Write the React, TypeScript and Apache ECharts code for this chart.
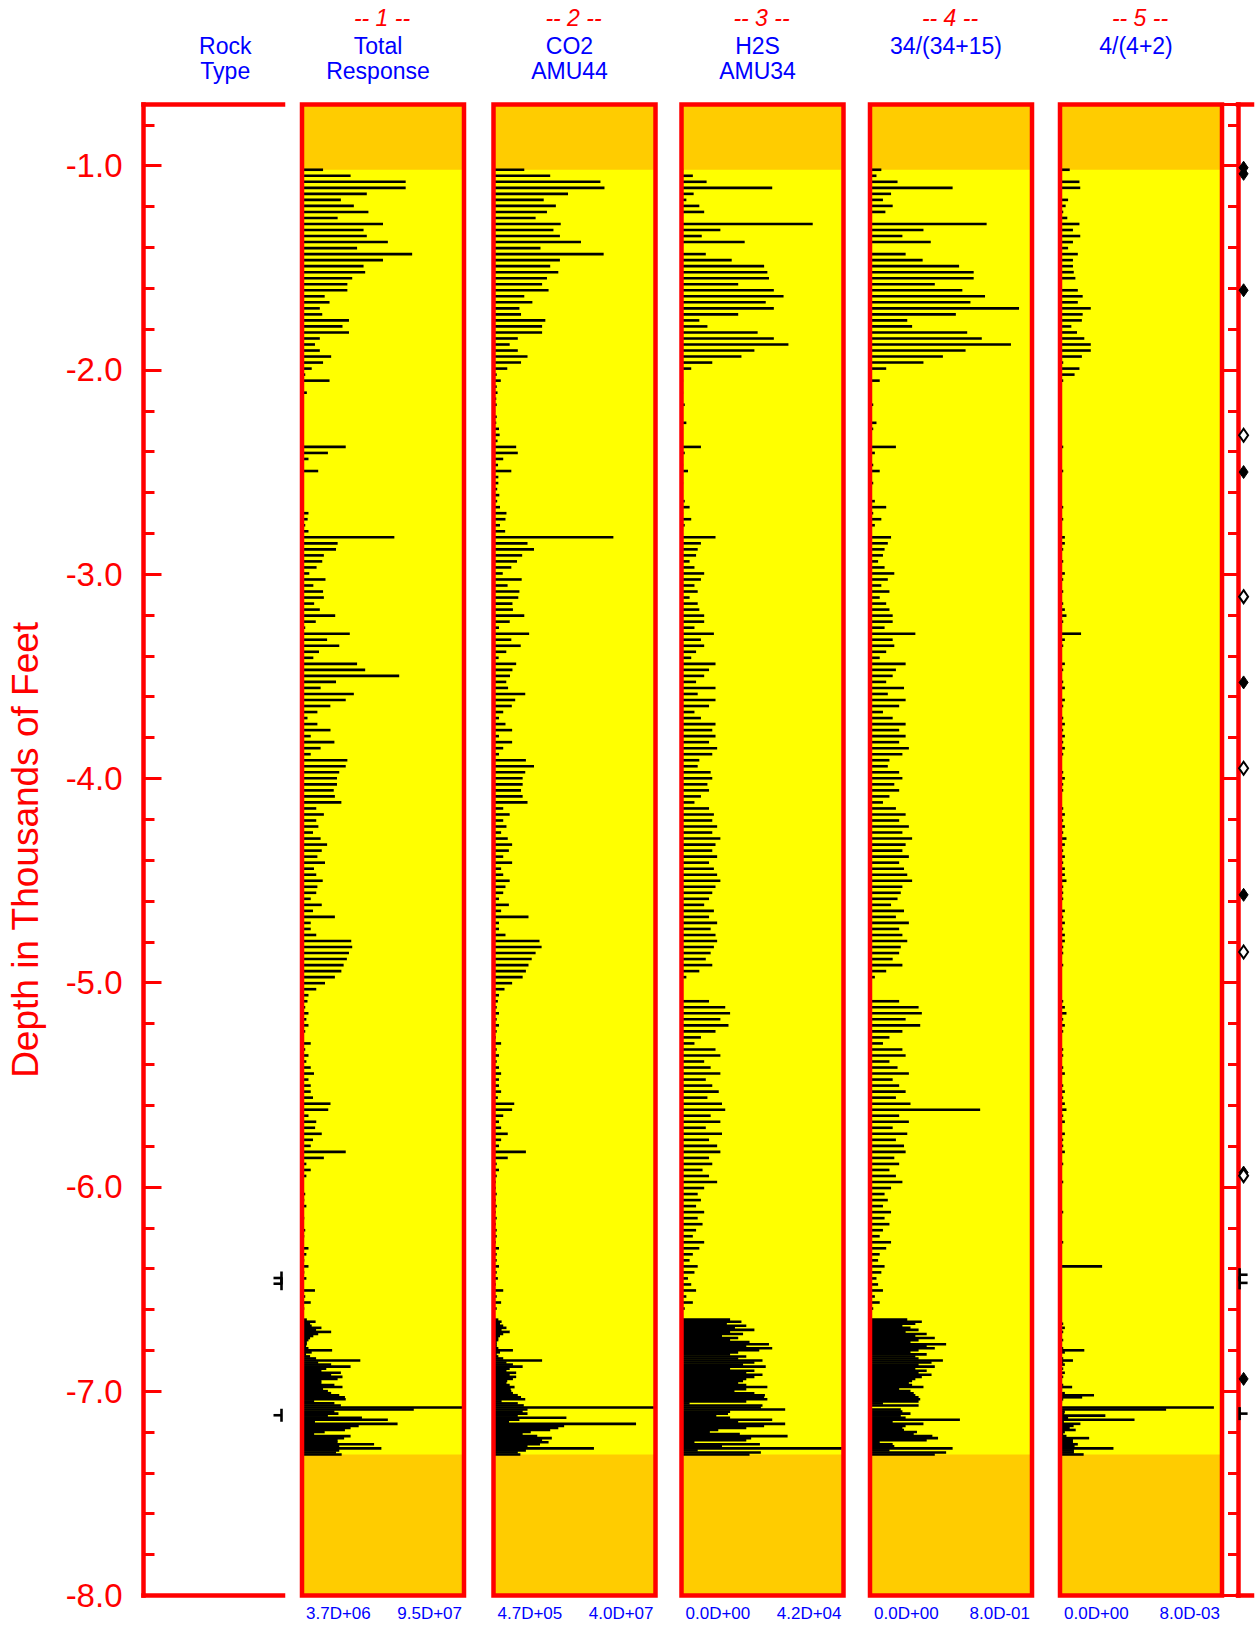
import React, { useEffect, useRef } from "react";
import * as echarts from "echarts";

// ---------- texts ----------
const TRACK_NUMBERS = ["-- 1 --", "-- 2 --", "-- 3 --", "-- 4 --", "-- 5 --"];
const TRACK_TITLES = [["Total", "Response"], ["CO2", "AMU44"], ["H2S", "AMU34"], ["34/(34+15)"], ["4/(4+2)"]];
const ROCK_TITLE = ["Rock", "Type"];
const SCALE_LABELS = [
  ["3.7D+06", "9.5D+07"],
  ["4.7D+05", "4.0D+07"],
  ["0.0D+00", "4.2D+04"],
  ["0.0D+00", "8.0D-01"],
  ["0.0D+00", "8.0D-03"],
];
const DEPTH_AXIS_TITLE = "Depth in Thousands of Feet";

// ---------- depth axis (thousands of feet, negative down) ----------
const DEPTH_MIN = -8.0;
const DEPTH_MAX = -0.7;
const MAJOR_STEP = 1;
const MINOR_STEP = 0.2;

// ---------- sampling (feet) ----------
const SPARSE_FIRST_FT = 1020;
const SPARSE_STEP_FT = 29.5;
const DENSE_FIRST_FT = 6650;
const DENSE_STEP_FT = 10;

// ---------- track values, percent of each track's scale ----------
const T1_SPARSE = [
  13, 30, 64, 64, 40, 24, 32, 41, 22, 50, 38, 40, 53, 34, 68, 50, 38, 39, 31, 28,
  28, 14, 17, 11, 12.5, 29, 25, 29, 11, 8, 11, 18, 13, 6, 2, 17,
  1, 3, 0.5, 0.5, 0, 0, 0, 0.5, 1, 0, 27, 16, 4, 0.5, 10, 0.5, 0.5, 0, 0.5, 0,
  0.5, 4, 3.5, 2, 4, 57, 22, 21, 13.5, 12.5, 9, 4.5, 14.5, 7, 13, 13.5, 7.5, 11, 20.5, 8.5,
  2, 29.5, 15.5, 23, 10.5, 7, 34, 39, 60, 21, 11.5, 32, 27, 17.5,
  9.5, 3.4, 9.5, 17.6, 5.4, 20, 11.5, 5.4, 28, 27,
  23, 21.6, 21.6, 19.6, 20.3, 24.3, 8.8, 13.5, 8.8, 10.1,
  6.8, 11.5, 15.5, 12.2, 9.5, 14.2, 7.4, 8.8, 12.8, 9.5,
  8.8, 5.4, 12.2, 6.8, 20.3, 5.4, 5.4, 8.8, 30.4, 31,
  29, 27.7, 25.7, 24.3, 20.3, 14.2, 8.8, 4, 3.4, 2,
  4, 2.7, 4, 2, 0.7, 5.4, 2, 4, 2.7, 5.4,
  7.4, 4, 5.4, 5.4, 6.8, 17.6, 16.2, 4, 8.8, 8.1,
  12.2, 6.8, 5.4, 27, 13.5, 2.7, 5.4, 2.7, 0.7, 0.7,
  2, 1.4, 2.7, 0.7, 1.4, 0.7, 2, 1.4, 0.7, 4,
  2.7, 1.4, 4, 1.4, 2.7, 0.7, 8, 2, 5.4, 1.4,
];
const T2_SPARSE = [
  19, 35, 66, 68.5, 46, 31, 38.5, 33, 26, 41.5, 37, 41, 54, 29, 68, 41, 35, 40, 33, 30,
  34, 19, 24, 16, 17, 32, 30, 30, 15, 10, 15, 21, 17, 8.5, 2, 4.5,
  2, 2.5, 1.7, 2, 1, 2, 1.7, 3.4, 3.8, 2.5, 14, 15, 6, 2.8, 11, 3, 3, 2.3, 3.6, 2.3,
  4, 8, 7.4, 4, 7.2, 74, 21, 25, 17.7, 14.5, 11, 5.7, 17.4, 8.7, 16, 15.3, 11.7, 12, 19, 10,
  3.4, 22, 11, 16.8, 7.9, 3.2, 14, 11.7, 10.2, 7.9, 9, 19.6, 13.4, 11.3,
  6, 3.4, 7.4, 11.5, 3.4, 11.5, 6, 3.4, 20, 25,
  19.6, 18, 18, 17, 18, 21, 6, 10, 6, 8,
  4.7, 8.8, 11.5, 9.5, 6, 11.5, 4.7, 6, 10, 7.4,
  6, 3.4, 9.5, 4.7, 21.6, 3.4, 3.4, 7.4, 28.4, 29.7,
  26, 23.6, 21.6, 20, 18, 11.5, 6.8, 3.4, 2.7, 2,
  3.4, 2, 3.4, 2, 1.4, 4.7, 2, 3.4, 2, 3.4,
  4.7, 3.4, 3.4, 4.7, 2.7, 12.8, 11.5, 6, 3.4, 4.7,
  8.8, 4.7, 3.4, 20, 8.8, 2, 3.4, 2, 1.4, 1.4,
  2, 1.4, 2, 1.4, 2, 1.4, 2, 2, 1.4, 3.4,
  2, 2, 3.4, 2, 2.7, 1.4, 6, 2, 4.7, 2,
];
const T3_SPARSE = [
  1, 7, 15.5, 56, 7.5, 3, 11, 14, 0, 81, 24, 12.5, 39, 0, 15, 31, 51, 53, 54, 35,
  57, 63, 52, 57, 35, 11, 16, 47, 57, 66, 45, 37, 19, 6, 0, 1,
  0, 1, 0, 2, 0, 0, 3, 1, 0, 0,
  12, 2, 0, 1, 4, 0, 1, 0, 0, 2,
  5, 1, 6, 2, 0, 21, 12, 10, 9, 5,
  8, 14, 12, 8, 10, 5, 10, 11, 14, 14,
  8, 20, 12, 14, 9, 6, 21, 17, 14, 9,
  21, 10, 21, 17, 8, 12, 21, 19, 21, 17,
  22, 19, 11, 10, 18, 19, 16, 17, 12, 8,
  17, 20, 19, 22, 19, 24, 21, 19, 22, 17,
  20, 22, 24, 21, 19, 17, 14, 20, 17, 22,
  18, 21, 22, 20, 18, 15, 19, 11, 3, 0,
  0, 0, 17, 27, 30, 24, 29, 21, 12, 8,
  21, 24, 14, 18, 24, 15, 19, 23, 16, 25,
  27, 18, 24, 15, 25, 17, 22, 24, 17, 19,
  13, 17, 22, 14, 10, 12, 9, 14, 10, 13,
  9, 7, 14, 11, 7, 5, 10, 8, 4, 6,
  9, 3, 7, 2,
];
const T4_SPARSE = [
  7, 4, 17, 51, 13, 8, 14, 9.5, 0, 72, 33, 20, 37.5, 0, 22, 32.5, 55, 64, 64, 40,
  57, 71, 62, 92, 53, 23, 26, 60, 69, 87, 59, 45, 33, 10, 0, 6,
  0, 1, 0, 2, 0, 0, 4, 2, 0, 0,
  16, 3, 0, 2, 6, 0, 2, 0, 0, 3,
  10, 2, 7, 3, 0, 13, 11, 9, 8, 5,
  9, 15, 11, 7, 12, 6, 10, 12, 14, 14,
  9, 28, 14, 15, 10, 6, 22, 16, 14, 10,
  21, 11, 22, 18, 8, 14, 22, 18, 22, 18,
  24, 20, 12, 11, 18, 20, 15, 18, 12, 8,
  16, 22, 18, 24, 20, 26, 22, 20, 24, 18,
  21, 23, 26, 20, 19, 17, 13, 21, 16, 24,
  18, 20, 23, 19, 18, 14, 20, 10, 3, 0,
  0, 0, 18, 30, 32, 22, 31, 20, 12, 8,
  20, 22, 12, 17, 24, 14, 18, 22, 16, 25,
  68, 18, 24, 14, 23, 16, 21, 22, 15, 18,
  12, 16, 20, 13, 9, 11, 8, 13, 9, 12,
  8, 6, 13, 10, 6, 5, 9, 7, 4, 5,
  8, 3, 6, 2,
];
const T5_SPARSE = [
  6, 0, 12, 12.5, 0, 5, 3.5, 2, 4.5, 12, 8, 12.5, 8, 5, 11, 8, 8, 8.5, 9.5, 0,
  11, 14, 11, 19, 14, 13.5, 7, 10.5, 15, 19, 19, 13.5, 2, 12, 9, 2,
  0, 1, 0, 0, 0, 0, 1, 0, 0, 0,
  2, 0, 0, 1, 2, 0, 0, 0, 0, 1,
  2, 0, 2, 1, 0, 3, 3, 2, 1, 2,
  1, 3, 2, 1, 2, 1, 2, 3, 4, 2,
  1, 13, 3, 2, 1, 0, 3, 2, 1, 2,
  3, 1, 3, 2, 1, 2, 3, 2, 3, 2,
  3, 2, 1, 1, 2, 3, 2, 2, 1, 0,
  2, 3, 2, 3, 2, 4, 3, 2, 3, 2,
  3, 3, 4, 2, 2, 2, 1, 3, 2, 3,
  2, 3, 3, 2, 2, 1, 2, 1, 0, 0,
  0, 0, 2, 3, 4, 2, 3, 2, 1, 1,
  2, 2, 1, 2, 3, 1, 2, 3, 2, 3,
  4, 2, 3, 1, 3, 2, 2, 3, 1, 2,
  1, 1, 2, 0, 1, 0, 1, 2, 0, 1,
  0, 1, 2, 0, 1, 0, 26, 1, 0, 0,
  1, 0, 1, 0,
];

const T1_DENSE = [
  3, 8.4, 5, 6, 12, 8.7, 18, 10, 7, 5, 4, 3, 3, 2.5, 4, 18.6, 6, 2.5, 5, 8.7,
  36, 10, 18, 30, 15, 12, 24, 18, 25, 22,
  12, 12, 20, 25, 13, 16, 18, 23, 26.5, 27, 7.5, 20, 24, 100, 69, 20, 22.5, 16, 37, 53,
  8, 59, 35, 30, 26.5, 14, 7.5, 30, 26, 22, 22, 44.5, 23, 49, 23, 21, 24.5,
];
const T2_DENSE = [
  3, 5, 4, 6, 8, 5, 10, 6, 4, 3, 3, 2, 2, 2, 3, 12, 4, 2, 3, 6,
  30, 8, 12, 18, 10, 8, 14, 10, 14, 12,
  8.5, 8, 10, 13, 10.6, 11, 12, 15, 17, 19.6, 5, 15, 18.7, 99, 21, 18, 21, 15, 45, 16,
  9.6, 88, 43.6, 40, 35, 23, 18, 27, 36, 30, 34, 28.7, 21, 62, 20, 15, 16.6,
];
const T3_DENSE = [
  30, 37, 28, 40, 33, 45, 30, 38, 25, 35, 30, 42, 54, 40, 56, 48, 35, 30, 40, 35,
  50, 45, 38, 52, 30, 45, 40, 50, 45, 40,
  38, 35, 40, 53, 40, 32.7, 45, 51.5, 51, 53, 40, 5, 50, 49, 64, 30, 28.7, 21.5, 30, 56,
  35, 64, 51, 40, 22.7, 17.5, 36, 65.5, 43, 40, 8, 48.4, 25, 99, 10, 49, 42,
];
const T4_DENSE = [
  23, 32, 28, 20, 25, 30, 22, 35, 28, 40, 30, 25, 47, 35, 40, 30, 25, 35, 28, 30,
  45, 38, 30, 40, 28, 35, 30, 38, 32, 28,
  26, 24, 26, 33, 18, 25, 27, 28, 30, 31, 30, 8, 30, 1, 19, 20, 25, 19, 22, 55.5,
  14, 33, 22, 20, 21, 29, 27, 38.5, 42, 35, 6, 14, 15, 51, 12, 47, 40,
];
const T5_DENSE = [
  1, 1, 2, 1, 3, 1, 2, 1, 1, 1, 2, 1, 1, 1, 2, 15, 3, 1, 1, 2,
  8, 2, 3, 1, 2, 1, 3, 1, 2, 1,
  1, 1, 2, 7.5, 1.3, 1, 3, 21, 13.7, 2, 1.3, 1, 0.5, 95, 65.5, 3, 2.7, 28, 5, 46,
  2.4, 12.6, 8.4, 6, 9.7, 3, 2, 4, 18, 8, 8, 11, 9, 33, 8.6, 8.6, 14.6,
];

const TRACK_SPARSE = [T1_SPARSE, T2_SPARSE, T3_SPARSE, T4_SPARSE, T5_SPARSE];
const TRACK_DENSE = [T1_DENSE, T2_DENSE, T3_DENSE, T4_DENSE, T5_DENSE];

// ---------- marker picks (feet) ----------
const ROCK_MARK_DEPTHS = [6446, 6474, 7118];
const RIGHT_MARK_DEPTHS = [1010, 1040, 1610, 2320, 2500, 3110, 3530, 3950, 4570, 4850, 5930, 5945, 6430, 6470, 6940, 7110];
const RIGHT_MARK_KINDS = ["filled", "filled", "filled", "open", "filled", "open", "filled", "open", "filled", "open", "filled", "open", "tick", "tick", "filled", "tick"];

// ---------- layout / style ----------
const FONT = "'Liberation Sans', Arial, Helvetica, sans-serif";
const RED = "#FF0000";
const BLUE = "#0000FF";
const YELLOW = "#FFFF00";
const ORANGE = "#FFCC00";
const FRAME_W = 4.5;
const BAR_H = 2.6;
const PLOT_TOP = 104.4;
const PLOT_HEIGHT = 1491;
const ROCK_LEFT = 143.5;
const ROCK_WIDTH = 139.5;
const PANEL_LEFTS = [302, 493.5, 681.5, 870, 1060];
const PANEL_WIDTH = 162;
const RIGHT_LEFT = 1238;
const RIGHT_WIDTH = 14;

const ft2axis = (ft: number) => -ft / 1000;

function trackData(k: number) {
  const rows: number[][] = [];
  TRACK_SPARSE[k].forEach((v, i) => rows.push([v, ft2axis(SPARSE_FIRST_FT + i * SPARSE_STEP_FT)]));
  TRACK_DENSE[k].forEach((v, i) => rows.push([v, ft2axis(DENSE_FIRST_FT + i * DENSE_STEP_FT)]));
  return rows;
}

function buildOption(): any {
  const firstFt = SPARSE_FIRST_FT;
  const lastFt = DENSE_FIRST_FT + (T1_DENSE.length - 1) * DENSE_STEP_FT;

  const grids: any[] = [
    { left: ROCK_LEFT, top: PLOT_TOP, width: ROCK_WIDTH, height: PLOT_HEIGHT, outerBoundsMode: "none" },
    ...PANEL_LEFTS.map((l) => ({ left: l, top: PLOT_TOP, width: PANEL_WIDTH, height: PLOT_HEIGHT, outerBoundsMode: "none" })),
    { left: RIGHT_LEFT, top: PLOT_TOP, width: RIGHT_WIDTH, height: PLOT_HEIGHT, outerBoundsMode: "none" },
  ];

  const frameLine = { show: true, lineStyle: { color: RED, width: FRAME_W, cap: "square" } };
  const lineOnlyX = (gridIndex: number, position: string) => ({
    gridIndex, type: "value", min: 0, max: 1, position,
    axisLine: frameLine, axisTick: { show: false }, axisLabel: { show: false }, splitLine: { show: false },
  });

  const xAxes: any[] = [
    lineOnlyX(0, "bottom"),
    lineOnlyX(0, "top"),
    ...SCALE_LABELS.map((lab, k) => ({
      gridIndex: k + 1, type: "value", min: 0, max: 100, interval: 100, position: "bottom",
      axisLine: { show: false }, axisTick: { show: false }, splitLine: { show: false },
      axisLabel: {
        show: true, color: BLUE, fontSize: 17, fontFamily: FONT, margin: 10,
        showMinLabel: true, showMaxLabel: true, hideOverlap: false,
        alignMinLabel: "left", alignMaxLabel: "right", padding: [0, 2, 0, 4],
        formatter: (v: number) => (v === 0 ? lab[0] : v === 100 ? lab[1] : ""),
      },
    })),
    lineOnlyX(6, "bottom"),
    lineOnlyX(6, "top"),
  ];

  const depthAxisBase = { type: "value", min: DEPTH_MIN, max: DEPTH_MAX, splitLine: { show: false } };
  const isMajor = (v: number) => Math.abs(v - Math.round(v)) < 1e-6;
  const yAxes: any[] = [
    {
      ...depthAxisBase, gridIndex: 0, position: "left", interval: MINOR_STEP,
      axisLine: { show: true, lineStyle: { color: RED, width: FRAME_W, cap: "square" } },
      axisTick: { show: true, inside: true, length: 11, lineStyle: { color: RED, width: 3 } },
      axisLabel: { show: false },
    },
    {
      ...depthAxisBase, gridIndex: 0, position: "left", interval: MAJOR_STEP,
      axisLine: { show: false },
      axisTick: { show: true, inside: true, length: 18, lineStyle: { color: RED, width: 3 } },
      axisLabel: {
        show: true, color: RED, fontSize: 33, fontFamily: FONT, margin: 21,
        formatter: (v: number) => (isMajor(v) ? v.toFixed(1) : ""),
      },
      name: DEPTH_AXIS_TITLE, nameLocation: "middle", nameRotate: 90, nameGap: 100,
      nameTextStyle: { color: RED, fontSize: 37, fontFamily: FONT },
    },
    ...PANEL_LEFTS.map((_, k) => ({ ...depthAxisBase, gridIndex: k + 1, show: false })),
    {
      ...depthAxisBase, gridIndex: 6, position: "right", interval: MINOR_STEP,
      axisLine: { show: true, lineStyle: { color: RED, width: FRAME_W, cap: "square" } },
      axisTick: { show: true, inside: true, length: 10, lineStyle: { color: RED, width: 3 } },
      axisLabel: { show: false },
    },
    {
      ...depthAxisBase, gridIndex: 6, position: "right", interval: MAJOR_STEP,
      axisLine: { show: false },
      axisTick: { show: true, inside: true, length: 14, lineStyle: { color: RED, width: 3 } },
      axisLabel: { show: false },
    },
  ];

  const series: any[] = [];
  PANEL_LEFTS.forEach((_, k) => {
    const xi = k + 2;
    const yi = k + 2;
    series.push({
      type: "custom", xAxisIndex: xi, yAxisIndex: yi, silent: true, z: 1,
      data: [[0, ft2axis(firstFt), ft2axis(lastFt)]],
      renderItem: (params: any, api: any) => {
        const cs = params.coordSys;
        const yTop = api.coord([0, api.value(1)])[1];
        const yBot = api.coord([0, api.value(2)])[1];
        return {
          type: "group",
          children: [
            { type: "rect", shape: { x: cs.x, y: cs.y, width: cs.width, height: cs.height }, style: { fill: ORANGE } },
            { type: "rect", shape: { x: cs.x, y: yTop, width: cs.width, height: yBot - yTop }, style: { fill: YELLOW } },
          ],
        };
      },
    });
    series.push({
      type: "custom", xAxisIndex: xi, yAxisIndex: yi, silent: true, z: 2,
      data: trackData(k),
      renderItem: (params: any, api: any) => {
        const v = api.value(0);
        const d = api.value(1);
        const p0 = api.coord([0, d]);
        const p1 = api.coord([v, d]);
        return {
          type: "rect",
          shape: { x: p0[0], y: p0[1] - BAR_H / 2, width: Math.max(p1[0] - p0[0], 0), height: BAR_H },
          style: { fill: "#000" },
        };
      },
    });
    series.push({
      type: "custom", xAxisIndex: xi, yAxisIndex: yi, silent: true, z: 3,
      data: [[0, -1]],
      renderItem: (params: any) => {
        const cs = params.coordSys;
        return {
          type: "rect",
          shape: { x: cs.x, y: cs.y, width: cs.width, height: cs.height },
          style: { fill: "none", stroke: RED, lineWidth: FRAME_W },
        };
      },
    });
  });

  // rock type picks
  series.push({
    type: "custom", xAxisIndex: 0, yAxisIndex: 0, silent: true, z: 4,
    data: ROCK_MARK_DEPTHS.map((d) => [1, ft2axis(d)]),
    renderItem: (params: any, api: any) => {
      const p = api.coord([api.value(0), api.value(1)]);
      const x = p[0] - 1.5;
      const y = p[1];
      return {
        type: "group",
        children: [
          { type: "line", shape: { x1: x, y1: y - 6.5, x2: x, y2: y + 6.5 }, style: { stroke: "#000", lineWidth: 2.6 } },
          { type: "line", shape: { x1: x - 8, y1: y, x2: x, y2: y }, style: { stroke: "#000", lineWidth: 2.6 } },
        ],
      };
    },
  });

  // right-hand picks
  series.push({
    type: "custom", xAxisIndex: 7, yAxisIndex: 7, silent: true, z: 4,
    data: RIGHT_MARK_DEPTHS.map((d, i) => [0.4, ft2axis(d), RIGHT_MARK_KINDS[i] === "filled" ? 0 : RIGHT_MARK_KINDS[i] === "open" ? 1 : 2]),
    renderItem: (params: any, api: any) => {
      const p = api.coord([api.value(0), api.value(1)]);
      const kind = api.value(2);
      const x = p[0];
      const y = p[1];
      if (kind === 2) {
        return {
          type: "group",
          children: [
            { type: "line", shape: { x1: x - 4, y1: y - 6.5, x2: x - 4, y2: y + 6.5 }, style: { stroke: "#000", lineWidth: 2.6 } },
            { type: "line", shape: { x1: x - 4, y1: y, x2: x + 4, y2: y }, style: { stroke: "#000", lineWidth: 2.6 } },
          ],
        };
      }
      return {
        type: "polygon",
        shape: { points: [[x, y - 6.5], [x + 4.5, y], [x, y + 6.5], [x - 4.5, y]] },
        style: kind === 0 ? { fill: "#000", stroke: "#000", lineWidth: 1 } : { fill: "#fff", stroke: "#000", lineWidth: 2 },
      };
    },
  });

  // header texts
  const graphic: any[] = [];
  const textEl = (text: string, x: number, y: number, color: string, italic = false) => ({
    type: "text", x, y, silent: true,
    style: { text, fill: color, fontSize: 23, fontFamily: FONT, fontStyle: italic ? "italic" : "normal", align: "center", verticalAlign: "middle" },
  });
  const rockCenter = ROCK_LEFT + ROCK_WIDTH / 2 + 12;
  ROCK_TITLE.forEach((t, i) => graphic.push(textEl(t, rockCenter, 46 + i * 25, BLUE)));
  PANEL_LEFTS.forEach((l, k) => {
    const c = l + PANEL_WIDTH / 2;
    graphic.push(textEl(TRACK_NUMBERS[k], c - 1, 18, RED, true));
    TRACK_TITLES[k].forEach((t, i) => graphic.push(textEl(t, c - 5, 46 + i * 25, BLUE)));
  });

  return {
    animation: false,
    backgroundColor: "#fff",
    textStyle: { fontFamily: FONT },
    grid: grids,
    xAxis: xAxes,
    yAxis: yAxes,
    series,
    graphic,
  };
}

export default function App() {
  const ref = useRef<HTMLDivElement>(null);
  useEffect(() => {
    document.body.style.margin = "0";
    const chart = echarts.init(ref.current as HTMLDivElement, null, { renderer: "svg" });
    chart.setOption(buildOption());
    return () => chart.dispose();
  }, []);
  return <div ref={ref} style={{ width: 1257, height: 1637, background: "#fff" }} />;
}
